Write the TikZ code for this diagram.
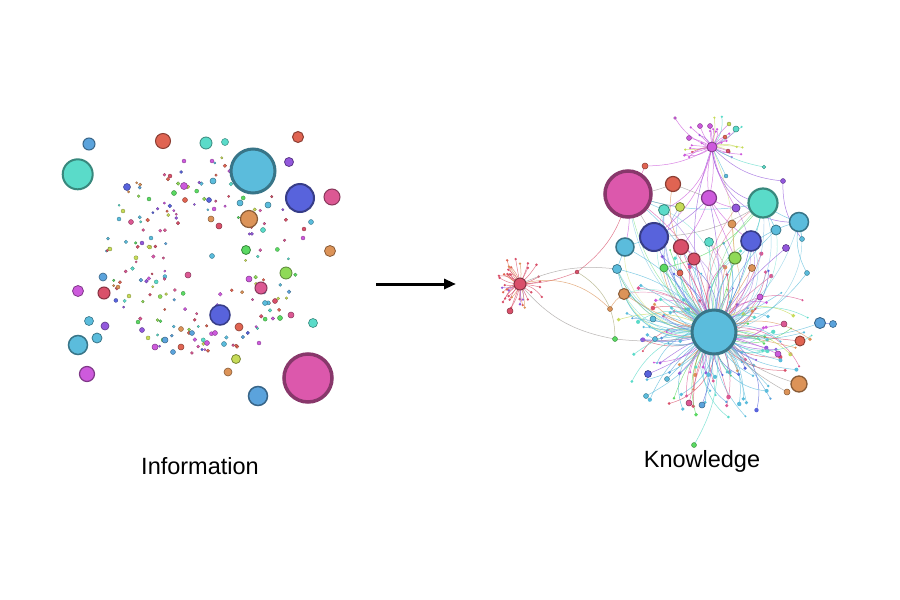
\documentclass[tikz,border=0pt]{standalone}
\usepackage{fontspec}
\setmainfont{Liberation Sans}
\usetikzlibrary{arrows.meta}
\definecolor{kcy}{HTML}{5BBCDC}
\definecolor{kteal}{HTML}{5ADBC9}
\definecolor{kblue}{HTML}{5863DC}
\definecolor{kpink}{HTML}{DC58AC}
\definecolor{kred}{HTML}{E06452}
\definecolor{kcrim}{HTML}{D9506A}
\definecolor{korange}{HTML}{DC9358}
\definecolor{kgreen}{HTML}{5AD962}
\definecolor{klime}{HTML}{8FDA57}
\definecolor{kyg}{HTML}{C6DB58}
\definecolor{kpurple}{HTML}{9358DC}
\definecolor{kmag}{HTML}{CD5ADC}
\definecolor{krose}{HTML}{DC5893}
\definecolor{klb}{HTML}{5BA3DC}
\definecolor{kgray}{HTML}{A09C9A}
\definecolor{kolive}{HTML}{A8A878}
\begin{document}
\begin{tikzpicture}[x=1pt,y=-1pt,
  blob/.style={fill=#1, draw=#1!62!black},
  ed/.style={line width=0.5pt, opacity=0.75},
  led/.style={line width=0.45pt, opacity=0.55},
  lbl/.style={font=\fontsize{23.5}{28}\selectfont, anchor=base, inner sep=0pt}]
\fill[white] (0,0) rectangle (900,600);
\useasboundingbox (0,0) rectangle (900,600);
\pgfmathdeclarerandomlist{cols}{{kcy}{kteal}{kblue}{kpink}{kred}{kcrim}{korange}{kgreen}{klime}{kyg}{kpurple}{kmag}{krose}{klb}}
\pgfmathdeclarerandomlist{hubcols}{{kcy}{kcy}{kcy}{kcy}{klb}{kteal}{kteal}{kpurple}{kgreen}{kblue}{kmag}{krose}{korange}{kyg}{kcrim}}
\pgfmathdeclarerandomlist{redcols}{{kcrim}{kcrim}{kcrim}{kcrim}{kcrim}{kred}{kpurple}{korange}}
\pgfmathdeclarerandomlist{topcols}{{kmag}{kmag}{kmag}{kpurple}{kteal}{kyg}{kcrim}{kmag}}
\pgfmathdeclarerandomlist{upper}{{P}{B1}{B2}{T}{C2}{M1}{PR}{R2}{G1}{G2}{C4}{O2}{T3}{C3}{TH}{C1}{V1}{Y1}{T2}}
% ================= LEFT: Information =================
\pgfmathsetseed{7}
\foreach \i in {1,...,165}{
  \pgfmathsetmacro{\ang}{360*rnd}
  \pgfmathsetmacro{\rr}{sqrt(0.15+0.85*rnd)}
  \pgfmathsetmacro{\px}{203+98*\rr*cos(\ang)}
  \pgfmathsetmacro{\py}{255+102*\rr*sin(\ang)}
  \pgfmathsetmacro{\dr}{1.1+1.0*rnd}
  \pgfmathrandomitem{\cc}{cols}
  \draw[blob=\cc, line width=0.25pt] (\px,\py) circle (\dr pt);
}
\foreach \x/\y/\r/\c/\w in {
  77.7/174.3/15/kteal/2, 89/144/6/klb/1, 163/141/7.5/kred/1, 206/143/6/kteal/0.8,
  225/142/3.5/kteal/0.5, 253/171/22/kcy/3, 298/137/5.5/kred/1, 289/162/4.5/kpurple/0.8,
  300/198/14/kblue/2, 332/197/8/krose/1, 249/219/8.5/korange/1.2, 330/251/5.5/korange/0.8,
  246/250/4.5/kgreen/0.8, 286/273/6/klime/0.8, 261/288/6/krose/1, 78/291/5.5/kmag/0.8,
  104/293/6/kcrim/1, 103/277/4/klb/0.6, 220/315/10/kblue/1.5, 239/327/4/kred/0.6,
  313/323/4.5/kteal/0.6, 291/315/3/krose/0.5, 280/318/2.5/kgreen/0.4, 89/321/4.5/kcy/0.6,
  105/326/4/kpurple/0.6, 97/338/5/kcy/0.8, 78/345/9.5/kcy/1.5, 87/374/7.5/kmag/1.2,
  236/359/4.5/kyg/0.8, 228/372/4/korange/0.6, 308/378/24/kpink/3.5, 258/396/9.5/klb/1.5,
  127/187/3.5/kblue/0.5, 184/186/3.5/kmag/0.5, 213/181/3/kcy/0.5, 209/200/2.5/kblue/0.4,
  185/200/2.5/kred/0.4, 211/219/3/korange/0.5, 219/226/3/kcrim/0.5, 240/203/3/kcy/0.5,
  268/205/3/kcy/0.5, 263/230/2.5/kteal/0.4, 311/222/2.5/kcy/0.4, 304/229/2/kcrim/0.3,
  303/238/2/kmag/0.3, 212/256/2.5/kcy/0.4, 188/275/3/krose/0.5, 249/279/3/kmag/0.5,
  265/303/2.5/kcy/0.4, 275/301/2.5/kcrim/0.4, 131/222/2.5/krose/0.4, 165/340/3/klb/0.5,
  155/347/3/kmag/0.5, 173/352/2.5/klb/0.4, 181/347/3/kred/0.5, 192/333/2.5/klb/0.4,
  181/329/2.5/korange/0.4, 215/333/2.5/kmag/0.4, 207/343/2.5/kmag/0.4, 224/344/2.5/kcy/0.4,
  259/343/2/kmag/0.3, 142/330/2.5/kpurple/0.4, 138/322/2/kgreen/0.3, 151/238/2/kcy/0.3,
  142/243/2/kpurple/0.3, 119/219/2/kcy/0.3, 123/211/2/kyg/0.3, 110/249/2/kyg/0.3,
  118/287/2/korange/0.3, 129/296/2/kyg/0.3, 174/193/2.5/kgreen/0.4, 149/199/2/kgreen/0.3,
  184/161/2/kmag/0.3, 212/161/2/kmag/0.3, 170/176/2/kcrim/0.3}
  \draw[blob=\c, line width=\w pt] (\x,\y) circle (\r pt);
\node[lbl] (info) at (200,474) {Information};
% ================= ARROW =================
\coordinate (a1) at (376,284);
\coordinate (a2) at (456,284);
\draw[line width=3pt, -{Triangle[length=12pt,width=10pt]}] (a1) -- (a2);
% ================= RIGHT: Knowledge =================
\foreach \n/\x/\y in {P/628/194, H/714/332, T/763/203, B1/654/237, B2/751/241, C1/799/222,
  C2/625/247, R1/673/184, M1/709/198, T2/664/210, Y1/680/207, V1/736/208, PR/681/247,
  R2/694/259, T3/709/242, O1/732/224, C3/776/230, V2/786/248, G1/735/258, G2/664/268,
  R3/680/273, C4/617/269, O2/624/294, O3/752/268, TH/712/147, RH/520/284, R4/510/311,
  R5/645/166, R6/577/272, O4/610/309, G3/615/339, C5/820/323, C6/833/324, R7/800/341,
  O5/799/384, O6/787/392, M2/778/354, M3/784/324, M4/760/297, V3/648/374, BL/702/405,
  PK/689/403, C7/646/396, G4/694/445, C8/667/379, C9/653/319, C10/655/339, C11/726/176,
  V4/783/181, T4/764/167, C12/807/273, C13/802/239,
  S1/700/126, S2/710/126, S3/736/129, S4/729/124, S5/689/138, S6/728/151, S7/725/137, S8/675/118}
  \coordinate (\n) at (\x,\y);
% --- spokes of the big hub
\pgfmathsetseed{11}
\foreach \i in {1,...,150}{
  \pgfmathsetmacro{\ang}{360*rnd}
  \pgfmathsetmacro{\len}{34+64*rnd}
  \pgfmathsetmacro{\bnd}{-45+90*rnd}
  \pgfmathsetmacro{\sx}{714+\len*cos(\ang)}
  \pgfmathsetmacro{\sy}{332+0.95*\len*sin(\ang)}
  \pgfmathsetmacro{\dr}{1+1.3*rnd}
  \pgfmathrandomitem{\cc}{hubcols}
  \coordinate (hs) at (\sx,\sy);
  \draw[ed,\cc] (H) to[bend left=\bnd] (hs);
  \fill[\cc] (hs) circle (\dr pt);
}
% --- spokes of the red hub
\foreach \i in {1,...,38}{
  \pgfmathsetmacro{\ang}{360*rnd}
  \pgfmathsetmacro{\len}{13+14*rnd}
  \pgfmathsetmacro{\bnd}{-25+50*rnd}
  \pgfmathsetmacro{\sx}{520+\len*cos(\ang)}
  \pgfmathsetmacro{\sy}{284+\len*sin(\ang)}
  \pgfmathrandomitem{\cc}{redcols}
  \coordinate (rs) at (\sx,\sy);
  \draw[ed,\cc] (RH) to[bend left=\bnd] (rs);
  \fill[\cc] (rs) circle (1.3pt);
}
% --- spokes of the top hub
\foreach \i in {1,...,26}{
  \pgfmathsetmacro{\ang}{150+240*rnd}
  \pgfmathsetmacro{\len}{10+26*rnd}
  \pgfmathsetmacro{\bnd}{-25+50*rnd}
  \pgfmathsetmacro{\sx}{712+\len*cos(\ang)}
  \pgfmathsetmacro{\sy}{147+\len*sin(\ang)}
  \pgfmathrandomitem{\cc}{topcols}
  \coordinate (ts) at (\sx,\sy);
  \draw[ed,\cc] (TH) to[bend left=\bnd] (ts);
  \fill[\cc] (ts) circle (1.2pt);
}
\foreach \s/\bd in {S1/10,S2/-8,S3/-15,S4/12,S5/-10,S6/8,S7/-6,S8/20}
  \draw[ed,kmag] (TH) to[bend left=\bd] (\s);
% --- random edges from the upper cluster to the big hub
\foreach \i in {1,...,40}{
  \pgfmathrandomitem{\nd}{upper}
  \pgfmathrandomitem{\cc}{hubcols}
  \pgfmathsetmacro{\bnd}{(rnd<0.5 ? -1 : 1)*(20+35*rnd)}
  \draw[led,\cc] (\nd) to[bend left=\bnd] (H);
}
% --- named edges
\foreach \a/\b/\c/\bd in {
  P/R5/kpink/-10, R5/TH/kmag/-15, RH/R6/kcrim/-10, R6/P/kcrim/-20, RH/C4/kgray/15,
  RH/O4/korange/30, O4/O2/korange/15, RH/G3/kgray/-20, G3/H/kgray/-10, R6/G3/kolive/30,
  RH/R4/kcrim/0, P/C2/kmag/10, P/B1/kgray/0, P/T2/kcy/0, P/Y1/kgray/-5, P/R1/kgray/-10,
  P/T/kcy/-15, P/H/kcy/20, P/R2/kpink/10, R1/PR/korange/-20,
  TH/M1/kmag/10, TH/M1/kmag/-10, TH/T/kpurple/-40, TH/C1/kpurple/-45, TH/V4/kpurple/-20,
  TH/V1/kmag/-10, TH/H/kpurple/-20, TH/C11/kcy/0, TH/B1/kmag/20, TH/T2/kmag/25, TH/T4/kteal/-10,
  M1/B2/kmag/-10, M1/PR/kmag/10, M1/V1/kmag/-10, M1/H/kpurple/10, M1/B1/kpurple/10, M1/G1/kmag/0,
  T/C1/kcy/-10, T/B2/kcy/10, T/C3/kcy/0, T/H/kteal/10, T/B1/kgray/15, T/G2/kgreen/20,
  C1/H/kcy/-40, C1/C12/kcy/-20, C1/C13/kcy/0, B1/H/kblue/-10, C2/H/kcy/15, B2/H/kblue/10,
  PR/H/kpink/0, R2/H/kcrim/5, G1/H/kgreen/0, G2/H/kgreen/-10, O2/H/korange/-10, C4/H/kcy/20,
  T3/H/kteal/0, O1/G1/korange/0, V2/H/kpurple/-10, O3/H/korange/0, C3/H/kcy/-15,
  H/C5/kcy/-15, C5/C6/kblue/0, H/R7/kcrim/0, H/O5/kgray/-15, H/O6/kgray/-10, H/M2/kmag/5,
  H/M3/kmag/-5, H/M4/kmag/0, H/G4/kteal/20, H/V3/kpurple/10, H/BL/kblue/10, H/PK/krose/-5,
  H/C7/kcy/15, H/C8/kcy/0, H/C9/kcy/10, H/C10/kcy/0, H/C12/kcy/-20, C2/B1/kcy/0,
  C2/C4/kcy/0, C4/O2/kcy/0, R3/H/kred/0, V4/C13/kpurple/-20, R1/M1/kgray/0}
  \draw[ed,\c] (\a) to[bend left=\bd] (\b);
% --- right nodes
\foreach \n/\r/\c/\w in {
  P/23/kpink/3.5, H/22/kcy/3, T/14.5/kteal/2.2, B1/14/kblue/2, B2/10/kblue/1.6,
  C1/9.5/kcy/1.5, C2/9/kcy/1.5, R1/7.5/kred/1.2, M1/7.5/kmag/1.2, T2/5.5/kteal/0.8,
  Y1/4.5/kyg/0.8, V1/4/kpurple/0.7, PR/7.5/kcrim/1.2, R2/6/kcrim/1, T3/4.5/kteal/0.6,
  O1/4/korange/0.6, C3/5/kcy/0.8, V2/3.5/kpurple/0.6, G1/6/klime/1, G2/4/kgreen/0.6,
  R3/3/kred/0.5, C4/4.5/kcy/0.7, O2/5.5/korange/1, O3/3.5/korange/0.6, TH/5/kmag/0.8,
  RH/6/kcrim/1, R4/3/kcrim/0.5, R5/3/kred/0.5, R6/2/kcrim/0.3, O4/2.5/korange/0.4,
  G3/2.5/kgreen/0.4, C5/5.5/klb/0.9, C6/3.5/klb/0.6, R7/5/kred/0.9, O5/8/korange/1.3,
  O6/3/korange/0.5, M2/3/kmag/0.5, M3/3/krose/0.5, M4/3/kmag/0.5, V3/3.5/kblue/0.6,
  BL/3/klb/0.5, PK/3/krose/0.5, C7/2.5/kcy/0.4, G4/2.5/kgreen/0.4, C8/2.5/kcy/0.4,
  C9/3/kcy/0.5, C10/2.5/kcy/0.4, C11/2/kcy/0.3, V4/2.5/kpurple/0.4, T4/1.8/kteal/0.3,
  C12/2.5/kcy/0.4, C13/2.5/kcy/0.4, S1/2.5/kmag/0.4, S2/2.5/kmag/0.4, S3/3/kteal/0.5,
  S4/2/kyg/0.3, S5/2.5/kmag/0.4, S6/2/kcrim/0.3, S7/2/kred/0.3, S8/1.5/kmag/0.3}
  \draw[blob=\c, line width=\w pt] (\n) circle (\r pt);
\node[lbl] (know) at (702,467) {Knowledge};
\end{tikzpicture}
\end{document}
